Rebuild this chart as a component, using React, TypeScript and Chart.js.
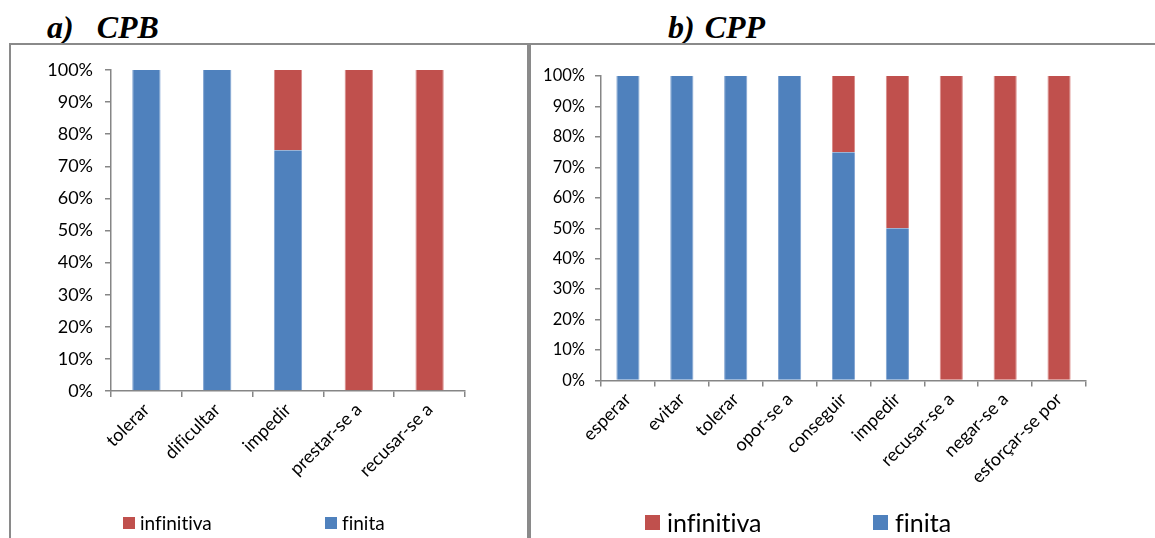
import React, { useEffect, useRef } from "react";
import { Chart, registerables } from "chart.js";

Chart.register(...registerables);

// ---- Data ----
const cpbCategories = ["tolerar", "dificultar", "impedir", "prestar-se a", "recusar-se a"];
const cpbFinita = [100, 100, 75, 0, 0];
const cpbInfinitiva = [0, 0, 25, 100, 100];

const cppCategories = [
  "esperar",
  "evitar",
  "tolerar",
  "opor-se a",
  "conseguir",
  "impedir",
  "recusar-se a",
  "negar-se a",
  "esforçar-se por",
];
const cppFinita = [100, 100, 100, 100, 75, 50, 0, 0, 0];
const cppInfinitiva = [0, 0, 0, 0, 25, 50, 100, 100, 100];

const yTicks = [0, 10, 20, 30, 40, 50, 60, 70, 80, 90, 100];
const seriesLabels = { finita: "finita", infinitiva: "infinitiva" };
const panelTitles = [
  ["a)", "CPB"],
  ["b)", "CPP"],
];

const BLUE = "#4F81BD";
const RED = "#C0504D";
const AXIS = "#868686";
const FONT = "Lato, 'Open Sans', sans-serif";

type Cfg = {
  labels: string[];
  finita: number[];
  infinitiva: number[];
  width: number;
  height: number;
  yAxisWidth: number;
  top: number;
  xAxisHeight: number;
  right: number;
  barPct: number;
  yFont: number;
  xFont: number;
  yPad: number;
};

const noLigatures = {
  id: "noLigatures",
  beforeDraw(chart: any) {
    try {
      chart.ctx.textRendering = "optimizeSpeed";
    } catch (e) {}
  },
};

function StackChart({ cfg }: { cfg: Cfg }) {
  const ref = useRef<HTMLCanvasElement | null>(null);
  useEffect(() => {
    if (!ref.current) return;
    const chart = new Chart(ref.current, {
      type: "bar",
      plugins: [noLigatures],
      data: {
        labels: cfg.labels,
        datasets: [
          {
            label: seriesLabels.finita,
            data: cfg.finita,
            backgroundColor: BLUE,
            borderColor: "#7FA3D1",
            borderWidth: { left: 1, right: 1, top: 0, bottom: 0 },
            borderSkipped: false,
            barPercentage: cfg.barPct,
            categoryPercentage: 1,
          },
          {
            label: seriesLabels.infinitiva,
            data: cfg.infinitiva,
            backgroundColor: RED,
            borderColor: "#D98A88",
            borderWidth: { left: 1, right: 1, top: 0, bottom: 0 },
            borderSkipped: false,
            barPercentage: cfg.barPct,
            categoryPercentage: 1,
          },
        ],
      },
      options: {
        responsive: false,
        animation: false,
        devicePixelRatio: 1,
        layout: { padding: { top: cfg.top, right: cfg.right, left: 0, bottom: 0 } },
        plugins: { legend: { display: false }, tooltip: { enabled: false }, title: { display: false } },
        scales: {
          x: {
            stacked: true,
            grid: {
              display: true,
              drawOnChartArea: false,
              drawTicks: true,
              tickLength: 6,
              color: AXIS,
              lineWidth: 1.5,
              offset: true,
            },
            border: { display: true, color: AXIS, width: 1.5 },
            ticks: {
              minRotation: 45,
              maxRotation: 45,
              autoSkip: false,
              color: "#000",
              font: { family: FONT, size: cfg.xFont },
              padding: 2,
            },
            afterFit: (s: any) => {
              s.height = cfg.xAxisHeight;
            },
          },
          y: {
            stacked: true,
            min: 0,
            max: 100,
            afterBuildTicks: (s: any) => {
              s.ticks = yTicks.map((v) => ({ value: v }));
            },
            grid: {
              display: true,
              drawOnChartArea: false,
              drawTicks: true,
              tickLength: 6,
              color: AXIS,
              lineWidth: 1.5,
            },
            border: { display: true, color: AXIS, width: 1.5 },
            ticks: {
              color: "#000",
              font: { family: FONT, size: cfg.yFont },
              padding: cfg.yPad,
              callback: (v: any) => v + "%",
            },
            afterFit: (s: any) => {
              s.width = cfg.yAxisWidth;
            },
          },
        },
      },
    });
    return () => chart.destroy();
  }, [cfg]);
  return <canvas ref={ref} width={cfg.width} height={cfg.height} style={{ display: "block" }} />;
}

const leftCfg: Cfg = {
  labels: cpbCategories,
  finita: cpbFinita,
  infinitiva: cpbInfinitiva,
  width: 516,
  height: 493,
  yAxisWidth: 101,
  top: 25,
  xAxisHeight: 147,
  right: 61,
  barPct: 0.4,
  yFont: 18,
  xFont: 18,
  yPad: 12,
};

const rightCfg: Cfg = {
  labels: cppCategories,
  finita: cppFinita,
  infinitiva: cppInfinitiva,
  width: 623,
  height: 493,
  yAxisWidth: 69,
  top: 31,
  xAxisHeight: 157.5,
  right: 69,
  barPct: 0.43,
  yFont: 16.5,
  xFont: 18,
  yPad: 10,
};

function Legend({ x1, x2, top, size, box }: { x1: number; x2: number; top: number; size: number; box: number }) {
  const item = (x: number, color: string, text: string) => (
    <div
      style={{
        position: "absolute",
        left: x,
        top,
        display: "flex",
        alignItems: "center",
        fontFamily: FONT,
        fontSize: size,
        lineHeight: 1,
        whiteSpace: "nowrap",
        color: "#000",
        fontVariantLigatures: "none",
      }}
    >
      <span style={{ display: "inline-block", width: box, height: box, background: color, marginRight: Math.round(box * 0.45) }} />
      <span>{text}</span>
    </div>
  );
  return (
    <>
      {item(x1, RED, seriesLabels.infinitiva)}
      {item(x2, BLUE, seriesLabels.finita)}
    </>
  );
}

export default function App() {
  const titleStyle: React.CSSProperties = {
    position: "absolute",
    fontFamily: "'Liberation Serif', 'Times New Roman', serif",
    fontWeight: "bold",
    fontStyle: "italic",
    fontSize: 32,
    lineHeight: 1,
    whiteSpace: "pre",
    color: "#000",
  };
  return (
    <div
      style={{
        position: "fixed",
        left: 0,
        top: 0,
        width: 1155,
        height: 538,
        background: "#fff",
        overflow: "hidden",
      }}
    >
      <div style={{ ...titleStyle, left: 47, top: 11 }}>
        <span>{panelTitles[0][0]}</span> <span style={{ marginLeft: 15 }}>{panelTitles[0][1]}</span>
      </div>
      <div style={{ ...titleStyle, left: 668, top: 11 }}>
        <span>{panelTitles[1][0]}</span> <span style={{ marginLeft: 2 }}>{panelTitles[1][1]}</span>
      </div>

      {/* left panel frame */}
      <div
        style={{
          position: "absolute",
          left: 9,
          top: 43,
          width: 516,
          height: 520,
          borderTop: "2px solid #8a8a8a",
          borderLeft: "2px solid #8a8a8a",
          borderRight: "2px solid #8a8a8a",
        }}
      />
      {/* right panel frame */}
      <div
        style={{
          position: "absolute",
          left: 529,
          top: 43,
          width: 640,
          height: 520,
          borderTop: "2px solid #8a8a8a",
          borderLeft: "2px solid #8a8a8a",
        }}
      />

      <div style={{ position: "absolute", left: 10, top: 45 }}>
        <StackChart cfg={leftCfg} />
      </div>
      <div style={{ position: "absolute", left: 532, top: 45 }}>
        <StackChart cfg={rightCfg} />
      </div>

      <Legend x1={123} x2={325} top={513} size={19} box={12} />
      <Legend x1={645} x2={873} top={510} size={25} box={15} />
    </div>
  );
}
